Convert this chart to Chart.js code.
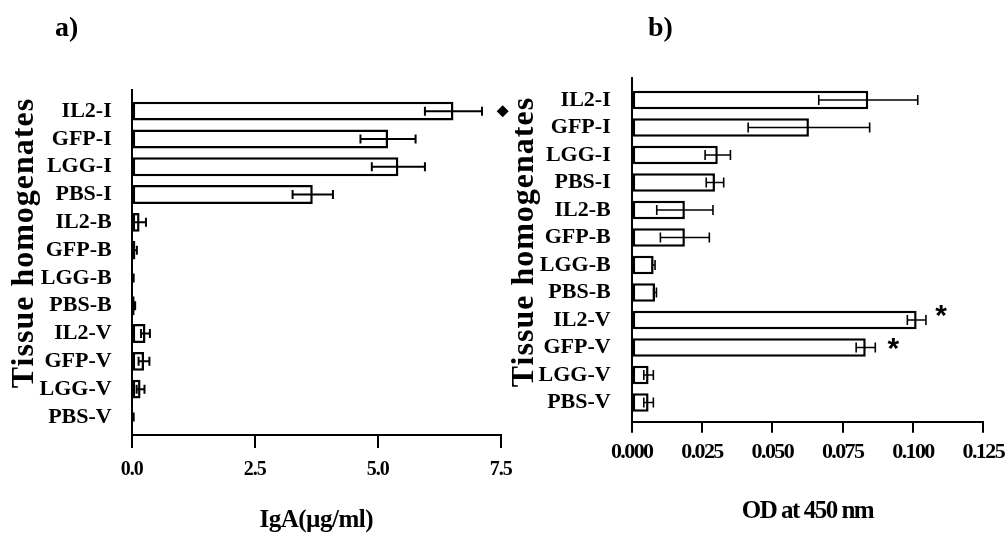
<!DOCTYPE html>
<html>
<head>
<meta charset="utf-8">
<script src="https://cdn.jsdelivr.net/npm/chart.js@4.4.1/dist/chart.umd.min.js"></script>
<style>
  body { margin: 0; background: #fff; }
  #wrap { position: relative; width: 1008px; height: 539px; overflow: hidden; }
  canvas { position: absolute; top: 0; }
  #cA { left: 0; }
  #cB { left: 504px; }
  .tag { position: absolute; top: 13px; font: bold 28px "Liberation Serif", serif; line-height: 28px; color: #000; }
</style>
</head>
<body>
<div id="wrap">
  <canvas id="cA" width="520" height="539"></canvas>
  <canvas id="cB" width="504" height="539"></canvas>
  <div class="tag" style="left:55px">a)</div>
  <div class="tag" style="left:648px">b)</div>
</div>
<script>
// data
const categories = ["IL2-I", "GFP-I", "LGG-I", "PBS-I", "IL2-B", "GFP-B", "LGG-B", "PBS-B", "IL2-V", "GFP-V", "LGG-V", "PBS-V"];
const igaMeans = [6.54, 5.21, 5.42, 3.68, 0.16, 0.075, 0.03, 0.06, 0.28, 0.25, 0.18, 0.03];
const igaErrors = [0.58, 0.56, 0.54, 0.41, 0.13, 0.03, 0.01, 0.01, 0.09, 0.11, 0.08, 0.01];
const odMeans = [0.0841, 0.063, 0.0306, 0.0296, 0.0189, 0.0189, 0.0078, 0.0083, 0.1013, 0.0832, 0.006, 0.006];
const odErrors = [0.0176, 0.0216, 0.0045, 0.0031, 0.010, 0.0087, 0.0005, 0.0005, 0.0033, 0.0034, 0.0017, 0.0017];
const igaTicks = [0, 2.5, 5, 7.5];
const igaTickLabels = ["0.0", "2.5", "5.0", "7.5"];
const odTicks = [0, 0.025, 0.05, 0.075, 0.1, 0.125];
const odTickLabels = ["0.000", "0.025", "0.050", "0.075", "0.100", "0.125"];
// significance marks: row index (fractional) and value
const igaMarks = [{ row: 0, value: 7.54, kind: "diamond" }];
const odMarks = [{ row: 7.67, value: 0.110, kind: "*" }, { row: 8.89, value: 0.093, kind: "*" }];

const serif = "Liberation Serif";

// error bars, drawn through the scales
const errorBars = {
  id: "errorBars",
  afterDatasetsDraw(chart, args, opts) {
    const { ctx, scales: { x, y } } = chart;
    const pts = chart.data.datasets[0].data;
    ctx.save();
    ctx.strokeStyle = "#000";
    ctx.lineWidth = opts.width;
    pts.forEach((p, i) => {
      const e = opts.errors[i];
      const cy = y.getPixelForValue(p.y);
      const x1 = x.getPixelForValue(Math.max(0, p.x - e));
      const x2 = x.getPixelForValue(p.x + e);
      ctx.beginPath();
      ctx.moveTo(x1, cy); ctx.lineTo(x2, cy);
      ctx.moveTo(x1, cy - opts.cap); ctx.lineTo(x1, cy + opts.cap);
      ctx.moveTo(x2, cy - opts.cap); ctx.lineTo(x2, cy + opts.cap);
      ctx.stroke();
    });
    ctx.restore();
  }
};

// wrap a scale draw method so its text is condensed
function squeeze(scale, method, spacing) {
  const orig = scale[method];
  scale[method] = function (area) {
    const c = this.ctx;
    c.save();
    c.letterSpacing = spacing;
    orig.call(this, area);
    c.restore();
  };
}

// diamond / asterisk marks, rotated y title, condensed x texts
const extras = {
  id: "extras",
  afterLayout(chart, args, opts) {
    const sx = chart.scales.x;
    if (!sx._squeezed) {
      squeeze(sx, "drawLabels", opts.tickSpacing);
      squeeze(sx, "drawTitle", opts.titleSpacing);
      sx._squeezed = true;
    }
  },
  afterDraw(chart, args, opts) {
    const { ctx, scales: { x, y } } = chart;
    ctx.save();
    ctx.fillStyle = "#000";
    opts.marks.forEach(m => {
      const px = x.getPixelForValue(m.value), py = y.getPixelForValue(m.row);
      if (m.kind === "diamond") {
        ctx.beginPath();
        ctx.moveTo(px, py - 6); ctx.lineTo(px + 6, py);
        ctx.lineTo(px, py + 6); ctx.lineTo(px - 6, py);
        ctx.closePath(); ctx.fill();
      } else {
        ctx.font = "bold 30px 'Liberation Sans'";
        ctx.textAlign = "center";
        ctx.textBaseline = "alphabetic";
        const mt = ctx.measureText(m.kind);
        const mid = (mt.actualBoundingBoxAscent - mt.actualBoundingBoxDescent) / 2;
        ctx.fillText(m.kind, px, py + mid);
      }
    });
    ctx.translate(opts.titleX, opts.titleY);
    ctx.rotate(-Math.PI / 2);
    ctx.font = "bold 32px '" + serif + "'";
    ctx.letterSpacing = "1px";
    ctx.textAlign = "center";
    ctx.textBaseline = "alphabetic";
    ctx.fillText("Tissue homogenates", 0, 0);
    ctx.restore();
  }
};

function makeChart(id, cfg) {
  return new Chart(document.getElementById(id), {
    type: "bar",
    data: {
      datasets: [{
        data: cfg.means.map((v, i) => ({ x: v, y: i })),
        backgroundColor: "#fff",
        borderColor: "#000",
        borderWidth: 2.5,
        borderSkipped: false,
        barPercentage: cfg.barPct,
        categoryPercentage: 1
      }]
    },
    options: {
      indexAxis: "y",
      responsive: false,
      animation: false,
      devicePixelRatio: 1,
      layout: { padding: { top: cfg.top, right: cfg.right, left: 0, bottom: 0 } },
      plugins: {
        legend: { display: false },
        tooltip: { enabled: false },
        errorBars: { errors: cfg.errors, width: cfg.errWidth, cap: cfg.cap },
        extras: {
          marks: cfg.marks, titleX: cfg.titleX, titleY: cfg.titleY,
          tickSpacing: cfg.tickSpacing, titleSpacing: cfg.titleSpacing
        }
      },
      scales: {
        y: {
          type: "linear",
          offset: false,
          reverse: true,
          min: cfg.yMin,
          max: cfg.yMax,
          grid: { display: false, offset: false },
          border: { display: true, color: "#000", width: 2 },
          afterBuildTicks: s => { s.ticks = categories.map((c, i) => ({ value: i })); },
          afterFit: s => { s.width = cfg.yWidth; s.paddingTop = 0; s.paddingBottom = 0; },
          ticks: {
            autoSkip: false,
            padding: cfg.labelPad,
            color: "#000",
            font: { family: serif, size: 22, weight: "bold" },
            callback: v => categories[v]
          }
        },
        x: {
          type: "linear",
          min: 0,
          max: cfg.ticks[cfg.ticks.length - 1],
          grid: { display: true, drawOnChartArea: false, drawTicks: true, tickLength: cfg.tickLen, color: "#000", lineWidth: 2 },
          border: { display: true, color: "#000", width: 2 },
          afterBuildTicks: s => { s.ticks = cfg.ticks.map(v => ({ value: v })); },
          afterFit: s => { s.height = cfg.xHeight; s.paddingLeft = 0; s.paddingRight = 0; },
          ticks: {
            autoSkip: false,
            maxRotation: 0,
            padding: cfg.tickPad,
            color: "#000",
            font: { family: serif, size: cfg.tickSize, weight: "bold" },
            callback: (v, i) => cfg.tickLabels[i]
          },
          title: {
            display: true,
            text: cfg.xTitle,
            color: "#000",
            font: { family: serif, size: 25, weight: "bold" },
            padding: { top: 0, bottom: cfg.titlePad }
          }
        }
      }
    },
    plugins: [errorBars, extras]
  });
}

// a) IgA
makeChart("cA", {
  means: igaMeans, errors: igaErrors, marks: igaMarks,
  ticks: igaTicks, tickLabels: igaTickLabels, xTitle: "IgA(µg/ml)",
  top: 90, right: 19.3, yWidth: 131.7, xHeight: 104,
  yMin: -0.76, yMax: 11.65, barPct: 0.68, labelPad: 12,
  tickLen: 13, tickPad: 10, tickSize: 20, tickSpacing: "-1px", titleSpacing: "-0.5px", titlePad: 3,
  errWidth: 2, cap: 4.5, titleX: 33, titleY: 243
});

// b) OD
makeChart("cB", {
  means: odMeans, errors: odErrors, marks: odMarks,
  ticks: odTicks, tickLabels: odTickLabels, xTitle: "OD at 450 nm",
  top: 78, right: 24.7, yWidth: 127.7, xHeight: 117.3,
  yMin: -0.8, yMax: 11.7, barPct: 0.67, labelPad: 13,
  tickLen: 11, tickPad: 6, tickSize: 22, tickSpacing: "-1.6px", titleSpacing: "-1.5px", titlePad: 12,
  errWidth: 1.6, cap: 5, titleX: 29, titleY: 242
});
</script>
</body>
</html>
